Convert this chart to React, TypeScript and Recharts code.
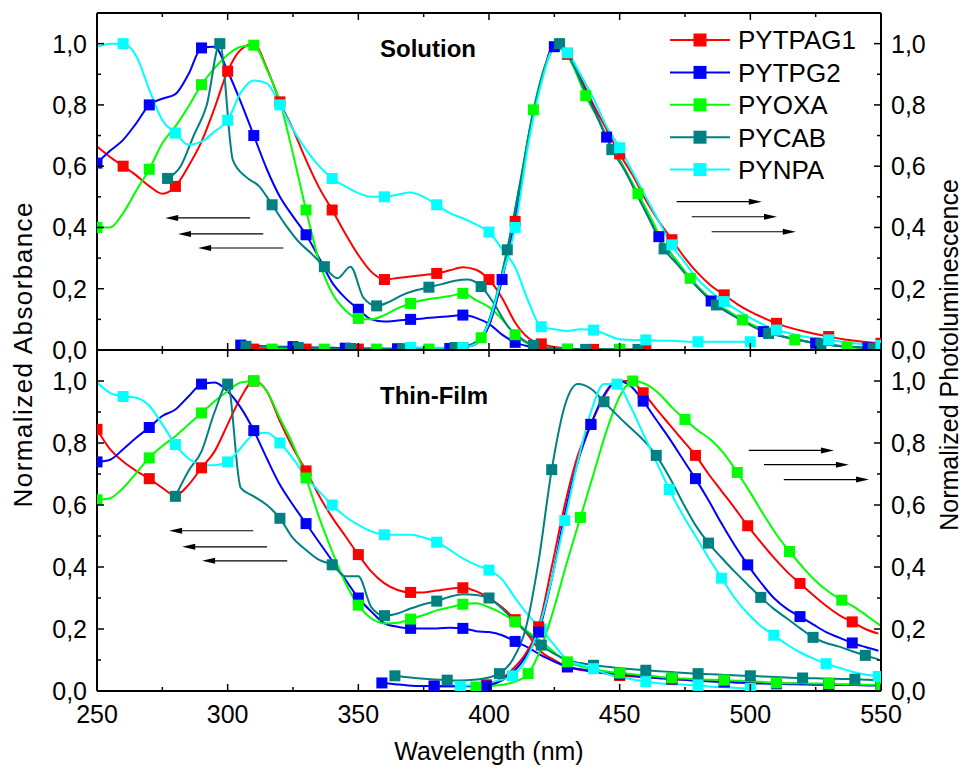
import { LineChart, Line, XAxis, YAxis, ReferenceLine } from "recharts";

const seriesNames = ["PYTPAG1", "PYTPG2", "PYOXA", "PYCAB", "PYNPA"];
const seriesColors = ["#ff0000", "#0000ff", "#00ff00", "#008080", "#00ffff"];

const xTicks = [250, 275, 300, 325, 350, 375, 400, 425, 450, 475, 500, 525, 550];
const yTicks = [0, 0.1, 0.2, 0.3, 0.4, 0.5, 0.6, 0.7, 0.8, 0.9, 1.0];

// Solution, absorbance (5 nm steps)
const solAbsRed = [0.664, 0.63, 0.6, 0.57, 0.535, 0.51, 0.534, 0.6, 0.68, 0.79, 0.91, 0.98, 1.0, 0.92, 0.81, 0.72, 0.62, 0.53, 0.457, 0.38, 0.31, 0.255, 0.23, 0.235, 0.24, 0.245, 0.25, 0.26, 0.27, 0.262, 0.23, 0.17, 0.09, 0.04, 0.02, 0.01, 0.005, 0.003, 0.002, 0.002, 0.002, 0.002, 0.002];
const solAbsBlue = [0.61, 0.65, 0.686, 0.74, 0.8, 0.82, 0.835, 0.9, 0.986, 0.99, 0.91, 0.81, 0.7, 0.59, 0.5, 0.436, 0.376, 0.3, 0.22, 0.17, 0.133, 0.1, 0.093, 0.096, 0.1, 0.103, 0.107, 0.11, 0.114, 0.105, 0.085, 0.05, 0.025, 0.012, 0.006, 0.003, 0.002, 0.002, 0.002, 0.002, 0.002];
const solAbsGreen = [0.4, 0.4, 0.447, 0.52, 0.59, 0.675, 0.73, 0.795, 0.866, 0.92, 0.964, 0.99, 0.995, 0.915, 0.81, 0.64, 0.457, 0.29, 0.185, 0.13, 0.103, 0.1, 0.114, 0.136, 0.152, 0.163, 0.17, 0.176, 0.185, 0.163, 0.14, 0.1, 0.05, 0.02, 0.01, 0.005, 0.003, 0.002, 0.002, 0.002, 0.002];
const solAbsTeal = [0.56, 0.6, 0.7, 0.8, 1.0, 0.62, 0.565, 0.535, 0.474, 0.41, 0.355, 0.315, 0.272, 0.234, 0.272, 0.17, 0.144, 0.158, 0.18, 0.195, 0.205, 0.215, 0.226, 0.23, 0.207, 0.15, 0.08, 0.04, 0.015, 0.008, 0.004, 0.003, 0.002, 0.002, 0.002, 0.002, 0.002];
const solAbsCyan = [0.99, 1.0, 1.0, 0.96, 0.85, 0.75, 0.708, 0.67, 0.68, 0.713, 0.75, 0.84, 0.88, 0.87, 0.8, 0.72, 0.654, 0.6, 0.56, 0.534, 0.512, 0.5, 0.5, 0.507, 0.514, 0.5, 0.474, 0.447, 0.43, 0.41, 0.385, 0.33, 0.27, 0.16, 0.076, 0.068, 0.062, 0.068, 0.065, 0.05, 0.035, 0.033, 0.033, 0.03, 0.03, 0.028, 0.027, 0.027, 0.027, 0.027, 0.027];

// Solution, photoluminescence
const solPlRed = [0.003, 0.003, 0.003, 0.003, 0.003, 0.003, 0.003, 0.003, 0.003, 0.003, 0.003, 0.003, 0.003, 0.003, 0.003, 0.004, 0.008, 0.02, 0.08, 0.24, 0.42, 0.69, 0.88, 0.995, 0.965, 0.89, 0.8, 0.72, 0.64, 0.57, 0.49, 0.42, 0.36, 0.3, 0.25, 0.21, 0.18, 0.15, 0.125, 0.105, 0.087, 0.073, 0.062, 0.052, 0.044, 0.036, 0.03, 0.025, 0.022];
const solPlBlue = [0.016, 0.014, 0.012, 0.011, 0.011, 0.009, 0.008, 0.007, 0.006, 0.005, 0.005, 0.004, 0.004, 0.004, 0.004, 0.004, 0.005, 0.008, 0.02, 0.08, 0.23, 0.43, 0.69, 0.88, 0.99, 0.965, 0.88, 0.79, 0.695, 0.62, 0.54, 0.455, 0.37, 0.31, 0.255, 0.205, 0.16, 0.13, 0.105, 0.083, 0.06, 0.05, 0.038, 0.03, 0.022, 0.017, 0.013, 0.01, 0.007];
const solPlGreen = [0.003, 0.003, 0.003, 0.003, 0.003, 0.003, 0.003, 0.003, 0.003, 0.003, 0.003, 0.003, 0.003, 0.004, 0.006, 0.012, 0.04, 0.15, 0.33, 0.55, 0.784, 0.94, 1.0, 0.93, 0.83, 0.75, 0.66, 0.59, 0.51, 0.43, 0.345, 0.29, 0.234, 0.19, 0.15, 0.125, 0.098, 0.078, 0.06, 0.047, 0.033, 0.027, 0.02, 0.015, 0.01, 0.008, 0.006];
const solPlTeal = [0.012, 0.011, 0.01, 0.009, 0.008, 0.007, 0.006, 0.005, 0.005, 0.004, 0.004, 0.004, 0.004, 0.004, 0.004, 0.005, 0.008, 0.015, 0.04, 0.15, 0.327, 0.55, 0.78, 0.94, 1.0, 0.935, 0.84, 0.75, 0.654, 0.585, 0.5, 0.415, 0.33, 0.28, 0.23, 0.185, 0.147, 0.12, 0.095, 0.072, 0.054, 0.045, 0.035, 0.027, 0.02, 0.015, 0.011, 0.008, 0.005];
const solPlCyan = [0.008, 0.008, 0.007, 0.007, 0.008, 0.02, 0.09, 0.24, 0.4, 0.67, 0.87, 0.985, 0.97, 0.9, 0.82, 0.73, 0.66, 0.58, 0.5, 0.42, 0.343, 0.285, 0.23, 0.19, 0.158, 0.13, 0.105, 0.083, 0.065, 0.055, 0.045, 0.038, 0.033, 0.027, 0.022, 0.018, 0.015];

// Thin film, absorbance
const filmAbsRed = [0.844, 0.78, 0.74, 0.71, 0.685, 0.655, 0.63, 0.665, 0.72, 0.773, 0.86, 0.946, 1.0, 0.967, 0.87, 0.784, 0.71, 0.63, 0.56, 0.5, 0.44, 0.385, 0.347, 0.326, 0.318, 0.318, 0.324, 0.33, 0.333, 0.322, 0.3, 0.27, 0.23, 0.18, 0.126, 0.1, 0.078, 0.068, 0.062, 0.056, 0.05, 0.047, 0.044, 0.041, 0.038, 0.036, 0.034, 0.032, 0.03, 0.029, 0.027, 0.026, 0.025, 0.024, 0.023, 0.022, 0.021, 0.02, 0.02, 0.019, 0.019];
const filmAbsBlue = [0.739, 0.746, 0.78, 0.817, 0.85, 0.887, 0.908, 0.95, 0.99, 0.995, 0.967, 0.914, 0.84, 0.75, 0.665, 0.6, 0.54, 0.48, 0.42, 0.36, 0.3, 0.256, 0.218, 0.207, 0.202, 0.202, 0.202, 0.204, 0.202, 0.193, 0.19, 0.18, 0.16, 0.14, 0.115, 0.095, 0.078, 0.07, 0.063, 0.058, 0.054, 0.05, 0.046, 0.042, 0.039, 0.036, 0.033, 0.031, 0.029, 0.027, 0.025, 0.024, 0.023, 0.022, 0.021, 0.02, 0.02, 0.019, 0.019, 0.018, 0.018];
const filmAbsGreen = [0.617, 0.622, 0.655, 0.703, 0.752, 0.79, 0.822, 0.86, 0.897, 0.935, 0.967, 0.995, 1.0, 0.967, 0.88, 0.795, 0.687, 0.56, 0.45, 0.35, 0.277, 0.234, 0.218, 0.22, 0.232, 0.245, 0.26, 0.27, 0.28, 0.283, 0.27, 0.25, 0.223, 0.19, 0.16, 0.125, 0.094, 0.08, 0.07, 0.063, 0.058, 0.054, 0.05, 0.046, 0.042, 0.04, 0.038, 0.036, 0.035, 0.033, 0.031, 0.029, 0.026, 0.025, 0.025, 0.024, 0.024, 0.022, 0.021, 0.02, 0.02];
const filmAbsTeal = [0.628, 0.71, 0.773, 0.9, 0.99, 0.655, 0.628, 0.6, 0.557, 0.493, 0.455, 0.423, 0.407, 0.37, 0.37, 0.27, 0.243, 0.25, 0.266, 0.28, 0.29, 0.304, 0.312, 0.31, 0.3, 0.266, 0.223, 0.185, 0.148, 0.12, 0.1, 0.09, 0.083, 0.078, 0.074, 0.07, 0.067, 0.064, 0.061, 0.058, 0.056, 0.054, 0.052, 0.05, 0.049, 0.047, 0.045, 0.043, 0.042, 0.041, 0.04, 0.039, 0.038, 0.036, 0.035];
const filmAbsCyan = [0.995, 0.962, 0.95, 0.946, 0.92, 0.86, 0.795, 0.75, 0.73, 0.728, 0.739, 0.784, 0.827, 0.833, 0.8, 0.75, 0.69, 0.644, 0.6, 0.563, 0.536, 0.515, 0.504, 0.504, 0.504, 0.495, 0.48, 0.455, 0.428, 0.407, 0.39, 0.36, 0.3, 0.245, 0.2, 0.148, 0.1, 0.085, 0.072, 0.055, 0.045, 0.037, 0.03, 0.025, 0.022, 0.02, 0.018, 0.014, 0.012, 0.01, 0.008];

// Thin film, photoluminescence
const filmPlRed = [0.015, 0.015, 0.016, 0.018, 0.02, 0.035, 0.07, 0.12, 0.207, 0.4, 0.6, 0.76, 0.86, 0.95, 1.0, 1.0, 0.962, 0.91, 0.86, 0.81, 0.76, 0.7, 0.645, 0.59, 0.533, 0.48, 0.43, 0.385, 0.347, 0.31, 0.275, 0.245, 0.223, 0.2, 0.185];
const filmPlBlue = [0.026, 0.022, 0.018, 0.016, 0.016, 0.015, 0.015, 0.015, 0.016, 0.03, 0.06, 0.11, 0.19, 0.36, 0.57, 0.74, 0.86, 0.955, 1.0, 0.985, 0.935, 0.875, 0.815, 0.75, 0.685, 0.615, 0.54, 0.47, 0.407, 0.35, 0.3, 0.265, 0.24, 0.215, 0.19, 0.172, 0.155, 0.142, 0.13];
const filmPlGreen = [0.013, 0.015, 0.02, 0.03, 0.056, 0.14, 0.27, 0.42, 0.56, 0.7, 0.84, 0.95, 1.0, 0.99, 0.96, 0.915, 0.876, 0.84, 0.81, 0.765, 0.705, 0.64, 0.57, 0.505, 0.45, 0.4, 0.355, 0.32, 0.293, 0.27, 0.24, 0.21];
const filmPlTeal = [0.049, 0.044, 0.04, 0.037, 0.035, 0.034, 0.036, 0.042, 0.056, 0.1, 0.2, 0.42, 0.714, 0.92, 0.99, 0.975, 0.933, 0.89, 0.85, 0.81, 0.76, 0.69, 0.61, 0.535, 0.477, 0.43, 0.385, 0.343, 0.302, 0.265, 0.234, 0.203, 0.173, 0.155, 0.143, 0.128, 0.115, 0.102];
const filmPlCyan = [0.015, 0.02, 0.025, 0.035, 0.049, 0.1, 0.2, 0.36, 0.55, 0.74, 0.9, 0.99, 0.99, 0.92, 0.83, 0.74, 0.65, 0.57, 0.5, 0.43, 0.364, 0.3, 0.25, 0.21, 0.18, 0.15, 0.125, 0.105, 0.088, 0.075, 0.062, 0.053, 0.047];

// s = series index, start = first wavelength, mark = first wavelength carrying a square
type Curve = { s: number; start: number; mark: number; values: number[] };

const solAbs: Curve[] = [
  { s: 0, start: 250, mark: 260, values: solAbsRed },
  { s: 1, start: 250, mark: 250, values: solAbsBlue },
  { s: 2, start: 250, mark: 250, values: solAbsGreen },
  { s: 3, start: 277, mark: 277, values: solAbsTeal },
  { s: 4, start: 250, mark: 260, values: solAbsCyan },
];
const solPl: Curve[] = [
  { s: 0, start: 310, mark: 310, values: solPlRed },
  { s: 1, start: 305, mark: 305, values: solPlBlue },
  { s: 2, start: 317, mark: 317, values: solPlGreen },
  { s: 3, start: 307, mark: 307, values: solPlTeal },
  { s: 4, start: 370, mark: 370, values: solPlCyan },
];
const filmAbs: Curve[] = [
  { s: 0, start: 250, mark: 250, values: filmAbsRed },
  { s: 1, start: 250, mark: 250, values: filmAbsBlue },
  { s: 2, start: 250, mark: 250, values: filmAbsGreen },
  { s: 3, start: 280, mark: 280, values: filmAbsTeal },
  { s: 4, start: 250, mark: 260, values: filmAbsCyan },
];
const filmPl: Curve[] = [
  { s: 0, start: 379, mark: 379, values: filmPlRed },
  { s: 1, start: 359, mark: 359, values: filmPlBlue },
  { s: 2, start: 395, mark: 395, values: filmPlGreen },
  { s: 3, start: 364, mark: 364, values: filmPlTeal },
  { s: 4, start: 389, mark: 389, values: filmPlCyan },
];

// arrows pointing to the axis each set of curves belongs to
const solArrows = [
  { from: 308.6, to: 276.1, y: 0.431 },
  { from: 313.6, to: 281.0, y: 0.379 },
  { from: 321.3, to: 288.7, y: 0.333 },
  { from: 471.8, to: 504.4, y: 0.484 },
  { from: 477.6, to: 510.2, y: 0.435 },
  { from: 485.2, to: 517.4, y: 0.386 },
];
const filmArrows = [
  { from: 309.8, to: 277.6, y: 0.517 },
  { from: 315.1, to: 282.6, y: 0.465 },
  { from: 322.8, to: 290.2, y: 0.42 },
  { from: 499.4, to: 532.0, y: 0.776 },
  { from: 505.2, to: 537.7, y: 0.73 },
  { from: 512.8, to: 545.4, y: 0.682 },
];

const FONT = "'Liberation Sans', Arial, sans-serif";

const toPoints = (c: Curve) => c.values.map((v, i) => ({ w: c.start + 5 * i, v }));

const squareDot = (color: string, mark: number) => (p: any) => {
  const { cx, cy, payload, index } = p;
  const off = (((payload.w - mark) % 20) + 20) % 20;
  if (cx == null || cy == null || (off > 0.01 && off < 19.99)) return <g key={`d${index}`} />;
  return <rect key={`d${index}`} x={cx - 5.5} y={cy - 5.5} width={11} height={11} fill={color} />;
};

const fmt = (v: number) => v.toFixed(1).replace(".", ",");

const xTick = (side: "top" | "bottom", margin: number, labels: boolean) => (p: any) => {
  const { x, y, payload } = p;
  const major = payload.value % 50 === 0;
  const len = major ? 7 : 4;
  const axisY = side === "bottom" ? y - margin : y + margin;
  const dir = side === "bottom" ? -1 : 1;
  return (
    <g>
      <line x1={x} y1={axisY} x2={x} y2={axisY + dir * len} stroke="#000" strokeWidth={1.5} />
      {labels && major && (
        <text x={x} y={y} dy="0.72em" textAnchor="middle" fontSize={25} fontFamily={FONT} fill="#000">
          {payload.value}
        </text>
      )}
    </g>
  );
};

const yTick = (side: "left" | "right", margin: number) => (p: any) => {
  const { x, y, payload } = p;
  const major = Math.round(payload.value * 10) % 2 === 0;
  const len = major ? 7 : 4;
  const axisX = side === "left" ? x + margin : x - margin;
  const dir = side === "left" ? 1 : -1;
  return (
    <g>
      <line x1={axisX} y1={y} x2={axisX + dir * len} y2={y} stroke="#000" strokeWidth={1.5} />
      {major && (
        <text x={x} y={y} dy="0.36em" textAnchor={side === "left" ? "end" : "start"} fontSize={25} fontFamily={FONT} fill="#000">
          {fmt(payload.value)}
        </text>
      )}
    </g>
  );
};

const arrowShape = (p: any) => {
  const { x1, y1, x2, y2 } = p;
  if (x1 == null) return <g />;
  const dir = x2 > x1 ? 1 : -1;
  return (
    <g>
      <line x1={x1} y1={y1} x2={x2 - dir * 8} y2={y2} stroke="#000" strokeWidth={1.2} />
      <polygon points={`${x2},${y2} ${x2 - dir * 13},${y2 - 3} ${x2 - dir * 13},${y2 + 3}`} fill="#000" />
    </g>
  );
};

interface PanelProps {
  abs: Curve[];
  pl: Curve[];
  arrows: { from: number; to: number; y: number }[];
  height: number;
  marginTop: number;
  bottomHeight: number;
  bottomLabels: boolean;
}

const Panel = ({ abs, pl, arrows, height, marginTop, bottomHeight, bottomLabels }: PanelProps) => {
  const bottomMargin = bottomLabels ? 14 : 0;
  return (
    <LineChart width={963} height={height} margin={{ top: marginTop, right: 0, left: 0, bottom: 0 }}>
      <XAxis
        xAxisId="b"
        dataKey="w"
        type="number"
        domain={[250, 550]}
        ticks={xTicks}
        interval={0}
        allowDataOverflow
        height={bottomHeight}
        axisLine={{ stroke: "#000", strokeWidth: 2 }}
        tickLine={false}
        tickSize={0}
        tickMargin={bottomMargin}
        tick={xTick("bottom", bottomMargin, bottomLabels)}
      />
      <XAxis
        xAxisId="t"
        orientation="top"
        dataKey="w"
        type="number"
        domain={[250, 550]}
        ticks={xTicks}
        interval={0}
        allowDataOverflow
        height={1}
        axisLine={{ stroke: "#000", strokeWidth: 2 }}
        tickLine={false}
        tickSize={0}
        tickMargin={0}
        tick={xTick("top", 0, false)}
      />
      <YAxis
        yAxisId="l"
        domain={[0, 1.1]}
        ticks={yTicks}
        interval={0}
        allowDataOverflow
        width={97}
        axisLine={{ stroke: "#000", strokeWidth: 2 }}
        tickLine={false}
        tickSize={0}
        tickMargin={10}
        tick={yTick("left", 10)}
      />
      <YAxis
        yAxisId="r"
        orientation="right"
        domain={[0, 1.1]}
        ticks={yTicks}
        interval={0}
        allowDataOverflow
        width={82}
        axisLine={{ stroke: "#000", strokeWidth: 2 }}
        tickLine={false}
        tickSize={0}
        tickMargin={10}
        tick={yTick("right", 10)}
      />
      {arrows.map((a, i) => (
        <ReferenceLine
          key={`a${i}`}
          xAxisId="b"
          yAxisId="l"
          segment={[{ x: a.from, y: a.y }, { x: a.to, y: a.y }]}
          shape={arrowShape}
        />
      ))}
      {abs.map((c) => (
        <Line
          key={`abs${c.s}`}
          data={toPoints(c)}
          xAxisId="b"
          yAxisId="l"
          dataKey="v"
          type="monotone"
          stroke={seriesColors[c.s]}
          strokeWidth={2}
          dot={squareDot(seriesColors[c.s], c.mark)}
          activeDot={false}
          isAnimationActive={false}
        />
      ))}
      {pl.map((c) => (
        <Line
          key={`pl${c.s}`}
          data={toPoints(c)}
          xAxisId="b"
          yAxisId="r"
          dataKey="v"
          type="monotone"
          stroke={seriesColors[c.s]}
          strokeWidth={2}
          dot={squareDot(seriesColors[c.s], c.mark)}
          activeDot={false}
          isAnimationActive={false}
        />
      ))}
    </LineChart>
  );
};

const App = () => (
  <div style={{ position: "absolute", left: 0, top: 0, width: 963, height: 769, background: "#fff", fontFamily: FONT }}>
    <div style={{ position: "absolute", left: 0, top: 0 }}>
      <Panel abs={solAbs} pl={solPl} arrows={solArrows} height={380} marginTop={12} bottomHeight={30} bottomLabels={false} />
    </div>
    <div style={{ position: "absolute", left: 0, top: 340 }}>
      <Panel abs={filmAbs} pl={filmPl} arrows={filmArrows} height={429} marginTop={9} bottomHeight={78} bottomLabels />
    </div>
    <svg width={963} height={769} style={{ position: "absolute", left: 0, top: 0, pointerEvents: "none" }}>
      <text x={380} y={57} fontSize={24} fontWeight="bold" fontFamily={FONT}>Solution</text>
      <text x={380} y={404} fontSize={24} fontWeight="bold" fontFamily={FONT}>Thin-Film</text>
      {seriesNames.map((n, i) => {
        const cy = 40 + i * 32.4;
        return (
          <g key={n}>
            <line x1={670} y1={cy} x2={730} y2={cy} stroke={seriesColors[i]} strokeWidth={2} />
            <rect x={693.5} y={cy - 6.5} width={13} height={13} fill={seriesColors[i]} />
            <text x={738} y={cy} dy="0.36em" fontSize={26} fontFamily={FONT}>{n}</text>
          </g>
        );
      })}
      <text transform="translate(32,355) rotate(-90)" textAnchor="middle" fontSize={26} textLength={305} fontFamily={FONT}>
        Normalized Absorbance
      </text>
      <text transform="translate(958,355) rotate(-90)" textAnchor="middle" fontSize={25} fontFamily={FONT}>
        Normalized Photoluminescence
      </text>
      <text x={489} y={760} textAnchor="middle" fontSize={25} fontFamily={FONT}>
        Wavelength (nm)
      </text>
    </svg>
  </div>
);

export default App;
